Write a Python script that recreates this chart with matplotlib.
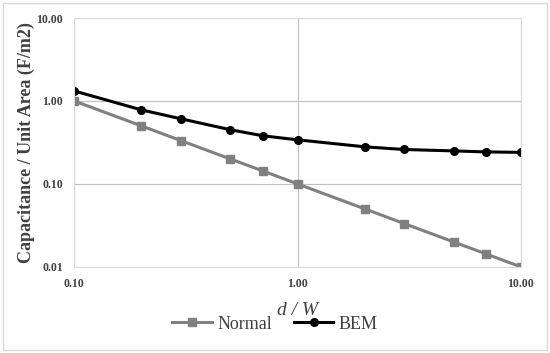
import matplotlib.pyplot as plt
from matplotlib.ticker import FixedLocator, NullLocator
from matplotlib.patches import Rectangle

d_over_w = [0.1, 0.2, 0.3, 0.5, 0.7, 1.0, 2.0, 3.0, 5.0, 7.0, 10.0]
normal = [1.0, 0.5, 0.333, 0.2, 0.143, 0.1, 0.05, 0.0333, 0.02, 0.0143, 0.01]
bem = [1.32, 0.78, 0.61, 0.45, 0.38, 0.34, 0.28, 0.26, 0.25, 0.243, 0.24]

plt.rcParams['font.family'] = ['Liberation Serif']

fig = plt.figure(figsize=(5.5, 3.53), dpi=100)
ax = fig.add_axes([0.135, 0.244, 0.812, 0.705])

ax.plot(d_over_w, normal, color='#808080', lw=2.2, marker='s', ms=6, label='Normal')
ax.plot(d_over_w, bem, color='black', lw=2.2, marker='o', ms=5.5, label='BEM')

ax.set_xscale('log')
ax.set_yscale('log')
ax.set_xlim(0.1, 10)
ax.set_ylim(0.01, 10)
ax.xaxis.set_major_locator(FixedLocator([0.1, 1, 10]))
ax.yaxis.set_major_locator(FixedLocator([0.01, 0.1, 1, 10]))
ax.xaxis.set_minor_locator(NullLocator())
ax.yaxis.set_minor_locator(NullLocator())
ax.set_xticklabels(['0.10', '1.00', '10.00'], fontsize=8.5, fontweight='bold', color='#404040')
ax.set_yticklabels(['0.01', '0.10', '1.00', '10.00'], fontsize=8.5, fontweight='bold', color='#404040')
ax.tick_params(length=0, pad=8)
ax.grid(True, color='#bfbfbf', lw=0.8)
ax.set_axisbelow(True)
for s in ax.spines.values():
    s.set_color('#d9d9d9')
    s.set_linewidth(0.8)

ax.set_xlabel('d / W', fontsize=14, style='italic', color='#404040', labelpad=9)
ax.set_ylabel('Capacitance / Unit Area (F/m2)', fontsize=13, fontweight='bold', color='#404040')
ax.yaxis.set_label_coords(-0.087, 0.5)

fig.legend(loc='center', bbox_to_anchor=(0.5, 0.082), ncol=2, frameon=False,
           fontsize=13, handlelength=2.2, handletextpad=0.3, columnspacing=1.2, labelcolor='#404040')

fig.patches.append(Rectangle((0.006, 0.008), 0.988, 0.984, transform=fig.transFigure,
                             fill=False, edgecolor='#d9d9d9', lw=1))

fig.savefig('out.png', dpi=100)
